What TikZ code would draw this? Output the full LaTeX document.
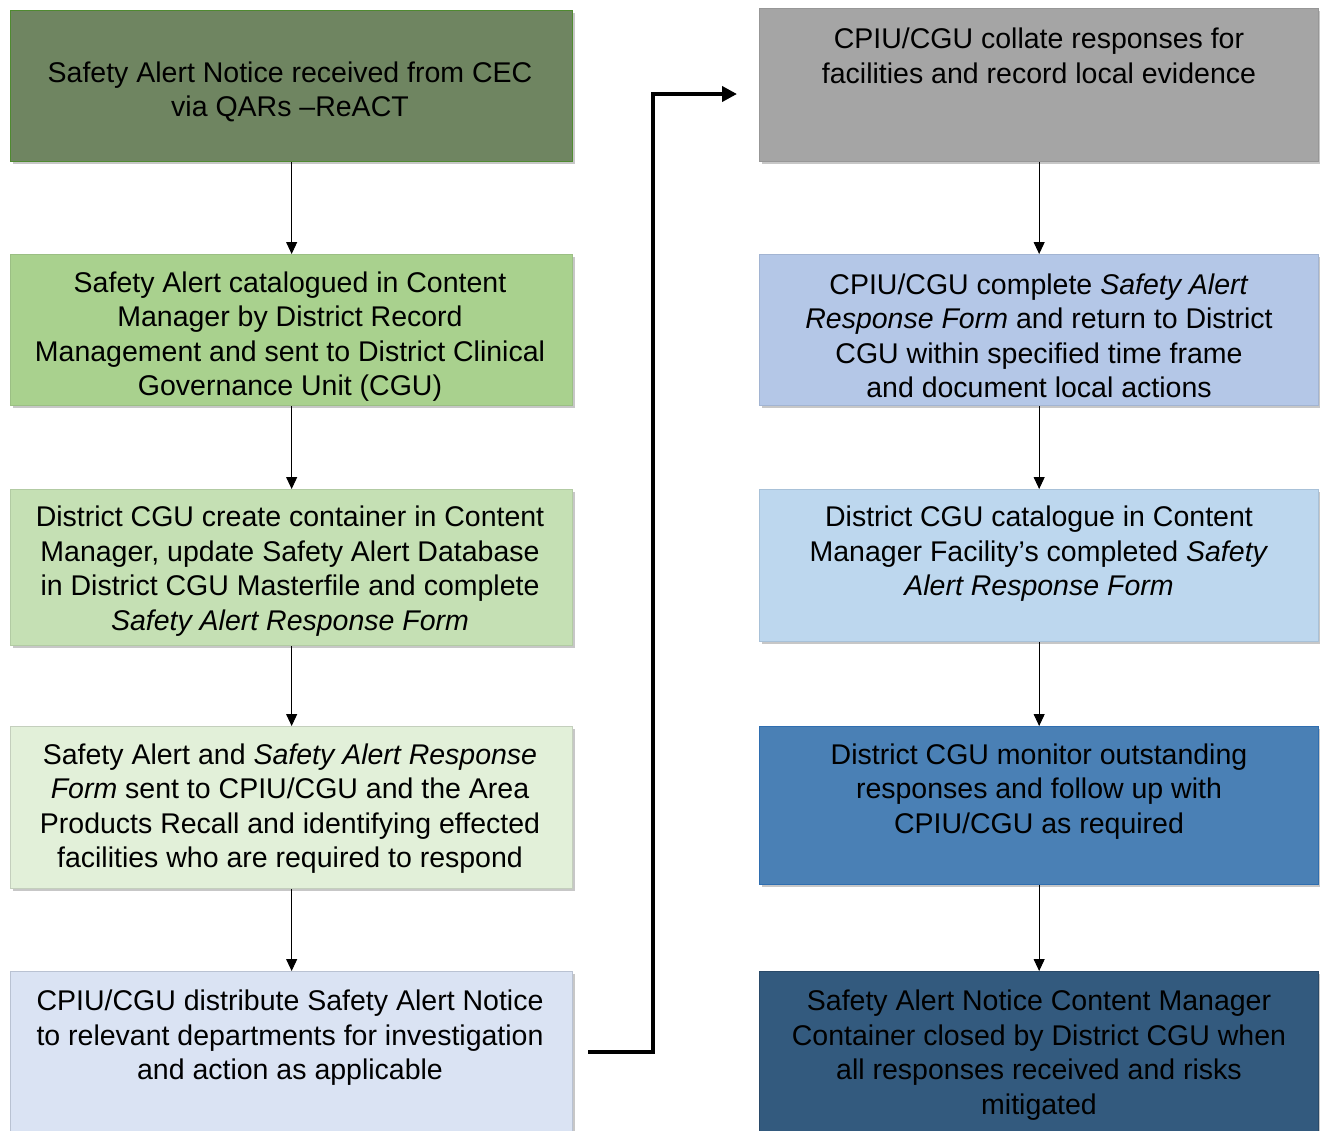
\documentclass[tikz,border=0pt]{standalone}
\usepackage{fontspec}
\setmainfont{Liberation Sans}
\usetikzlibrary{arrows.meta,shadows,calc}
\definecolor{cL1}{HTML}{6F8561}\definecolor{bL1}{HTML}{4F8A30}
\definecolor{cL2}{HTML}{A9D18E}\definecolor{bL2}{HTML}{9BBF84}
\definecolor{cL3}{HTML}{C5E0B4}\definecolor{bL3}{HTML}{B2CBA3}
\definecolor{cL4}{HTML}{E2F0D9}\definecolor{bL4}{HTML}{C4CFBD}
\definecolor{cL5}{HTML}{DAE3F3}\definecolor{bL5}{HTML}{B9C2D2}
\definecolor{cR1}{HTML}{A5A5A5}\definecolor{bR1}{HTML}{979797}
\definecolor{cR2}{HTML}{B4C7E7}\definecolor{bR2}{HTML}{A2B4D2}
\definecolor{cR3}{HTML}{BDD7EE}\definecolor{bR3}{HTML}{A8C1D8}
\definecolor{cR4}{HTML}{4A80B5}\definecolor{bR4}{HTML}{2F6EB0}
\definecolor{cR5}{HTML}{335A7E}\definecolor{bR5}{HTML}{2A4A69}
\begin{document}
\begin{tikzpicture}[x=1bp,y=-1bp,
  box/.style={rectangle, draw, line width=1.3bp, inner sep=0pt, anchor=north west,
    drop shadow={shadow xshift=2.5bp, shadow yshift=-2.5bp, fill=black, opacity=0.22}},
  txt/.style={align=center, inner sep=0pt, text=black,
    font=\fontsize{28.5bp}{34.5bp}\selectfont},
  arr/.style={-{Triangle[length=12bp,width=11bp]}, line width=1bp, black},
  bigarr/.style={-{Triangle[length=15bp,width=15bp]}, line width=4bp, black}]
\useasboundingbox (0,0) rectangle (1320,1130);
\clip (0,0) rectangle (1320,1130);
% left column
\node[box, fill=cL1, draw=bL1, minimum width=562bp, minimum height=151bp] (l1) at (10,10) {};
\node[box, fill=cL2, draw=bL2, minimum width=562bp, minimum height=151bp] (l2) at (10,254) {};
\node[box, fill=cL3, draw=bL3, minimum width=562bp, minimum height=156bp] (l3) at (10,489) {};
\node[box, fill=cL4, draw=bL4, minimum width=562bp, minimum height=162bp] (l4) at (10,726) {};
\node[box, fill=cL5, draw=bL5, minimum width=562bp, minimum height=175bp] (l5) at (10,971) {};
% right column
\node[box, fill=cR1, draw=bR1, minimum width=559bp, minimum height=153bp] (r1) at (759,8) {};
\node[box, fill=cR2, draw=bR2, minimum width=559bp, minimum height=151bp] (r2) at (759,254) {};
\node[box, fill=cR3, draw=bR3, minimum width=559bp, minimum height=152bp] (r3) at (759,489) {};
\node[box, fill=cR4, draw=bR4, minimum width=559bp, minimum height=158bp] (r4) at (759,726) {};
\node[box, fill=cR5, draw=bR5, minimum width=559bp, minimum height=175bp] (r5) at (759,971) {};
% texts
\node[txt] (t1) at (290,92) {Safety Alert Notice received from CEC\\via QARs –ReACT};
\node[txt] (t2) at (290,336.5) {Safety Alert catalogued in Content\\Manager by District Record\\Management and sent to District Clinical\\Governance Unit (CGU)};
\node[txt] (t3) at (290,571) {District CGU create container in Content\\Manager, update Safety Alert Database\\in District CGU Masterfile and complete\\\textit{Safety Alert Response Form}};
\node[txt] (t4) at (290,808.5) {Safety Alert and \textit{Safety Alert Response}\\\textit{Form} sent to CPIU/CGU and the Area\\Products Recall and identifying effected\\facilities who are required to respond};
\node[txt] (t5) at (290,1038) {CPIU/CGU distribute Safety Alert Notice\\to relevant departments for investigation\\and action as applicable};
\node[txt] (t6) at (1039,56) {CPIU/CGU collate responses for\\facilities and record local evidence};
\node[txt] (t7) at (1039,336) {CPIU/CGU complete \textit{Safety Alert}\\\textit{Response Form} and return to District\\CGU within specified time frame\\and document local actions};
\node[txt] (t8) at (1039,554) {District CGU catalogue in Content\\Manager Facility’s completed \textit{Safety}\\\textit{Alert Response Form}};
\node[txt] (t9) at (1039,791.5) {District CGU monitor outstanding\\responses and follow up with\\CPIU/CGU as required};
\node[txt] (t10) at (1039,1055) {Safety Alert Notice Content Manager\\Container closed by District CGU when\\all responses received and risks\\mitigated};
% arrows
\draw[arr] (l1.south) -- (l2.north);
\draw[arr] (l2.south) -- (l3.north);
\draw[arr] (l3.south) -- (l4.north);
\draw[arr] (l4.south) -- (l5.north);
\draw[arr] (r1.south) -- (r2.north);
\draw[arr] (r2.south) -- (r3.north);
\draw[arr] (r3.south) -- (r4.north);
\draw[arr] (r4.south) -- (r5.north);
\coordinate (cs) at (588,1052);
\coordinate (ce) at (737,94);
\draw[bigarr] (cs) -- ++(65,0) |- (ce);
\end{tikzpicture}
\end{document}
